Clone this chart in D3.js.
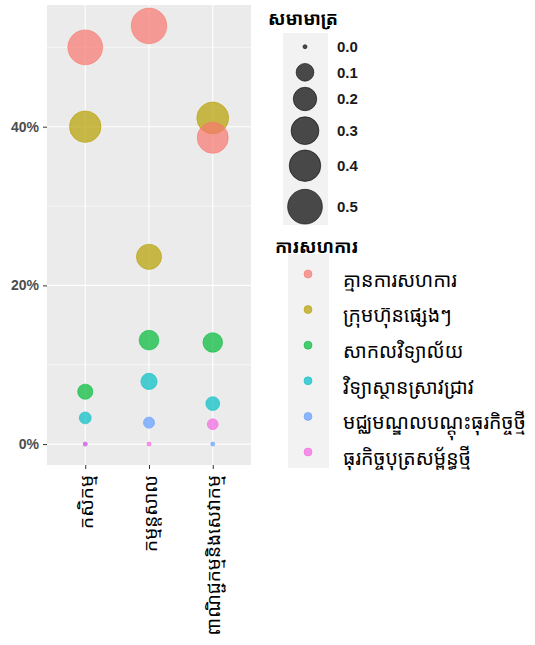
<!DOCTYPE html>
<html><head><meta charset="utf-8">
<script src="https://cdn.jsdelivr.net/npm/d3@7"></script>
<style>body{margin:0;background:#fff}svg{display:block}</style>
</head><body>
<script>
const categories = ["កសិកម្ម", "កម្មន្តសាល", "ពាណិជ្ជកម្មនិងសេវាកម្ម"];
const series = ["គ្មានការសហការ", "ក្រុមហ៊ុនផ្សេងៗ", "សាកលវិទ្យាល័យ", "វិទ្យាស្ថានស្រាវជ្រាវ", "មជ្ឈមណ្ឌលបណ្ដុះធុរកិច្ចថ្មី", "ធុរកិច្ចបុត្រសម្ព័ន្ធថ្មី"];
const colors = ["#F8766D", "#B79F00", "#00BA38", "#00BFC4", "#619CFF", "#F564E3"];
// values per series, one per category
const values = [
  [0.500, 0.527, 0.386],
  [0.400, 0.236, 0.411],
  [0.066, 0.131, 0.128],
  [0.033, 0.079, 0.051],
  [0.000, 0.027, 0.000],
  [0.000, 0.000, 0.025]
];
const yTicks = [0, 0.2, 0.4];
const yMinor = [0.1, 0.3, 0.5];
const sizeBreaks = [0.0, 0.1, 0.2, 0.3, 0.4, 0.5];
const sizeTitle = "សមាមាត្រ";
const colorTitle = "ការសហការ";
const drawOrder = [1, 0, 2, 3, 4, 5];

const W = 535, H = 645;
const svg = d3.select("body").append("svg").attr("width", W).attr("height", H);
const khmer = "'Noto Sans Khmer','Khmer OS','Khmer OS System','Leelawadee UI','Noto Sans','DejaVu Sans',sans-serif";

const panel = {l: 47, r: 251, t: 5, b: 465};
const maxV = d3.max(values.flat());
const ex = maxV * 0.05;
const y = d3.scaleLinear().domain([-ex, maxV + ex]).range([panel.b, panel.t]);
const x = d3.scalePoint().domain(categories).range([panel.l, panel.r]).padding(0.6);
const size = d3.scaleSqrt().domain([0, maxV]).range([2, 17.8]);

svg.append("rect").attr("x", panel.l).attr("y", panel.t).attr("width", panel.r - panel.l).attr("height", panel.b - panel.t).attr("fill", "#EBEBEB");
const g = svg.append("g");
g.selectAll("line.minor").data(yMinor).join("line").attr("x1", panel.l).attr("x2", panel.r)
  .attr("y1", d => y(d)).attr("y2", d => y(d)).attr("stroke", "#fff").attr("stroke-width", 0.6);
g.selectAll("line.major").data(yTicks).join("line").attr("x1", panel.l).attr("x2", panel.r)
  .attr("y1", d => y(d)).attr("y2", d => y(d)).attr("stroke", "#fff").attr("stroke-width", 1.1);
g.selectAll("line.vx").data(categories).join("line").attr("y1", panel.t).attr("y2", panel.b)
  .attr("x1", d => x(d)).attr("x2", d => x(d)).attr("stroke", "#fff").attr("stroke-width", 1.1);

// points
const pts = [];
drawOrder.forEach(si => categories.forEach((c, ci) => pts.push({c, v: values[si][ci], col: colors[si]})));
svg.append("g").selectAll("circle").data(pts).join("circle")
  .attr("cx", d => x(d.c)).attr("cy", d => y(d.v)).attr("r", d => size(d.v))
  .attr("fill", d => d.col).attr("fill-opacity", 0.7)
  .attr("stroke", d => d.col).attr("stroke-opacity", 0.7).attr("stroke-width", 0.8);

// y axis
const yAxis = d3.axisLeft(y).tickValues(yTicks).tickFormat(d => Math.round(d * 100) + "%").tickSize(4).tickPadding(4);
const ya = svg.append("g").attr("transform", `translate(${panel.l},0)`).call(yAxis);
ya.select(".domain").remove();
ya.selectAll("line").attr("stroke", "#333").attr("stroke-width", 1);
ya.selectAll("text").attr("fill", "#4D4D4D").style("font-family", "'Liberation Sans',Arial,sans-serif").style("font-weight", "bold").style("font-size", "14px");

// x axis
const xAxis = d3.axisBottom(x).tickSize(4).tickPadding(0);
const xa = svg.append("g").attr("transform", `translate(0,${panel.b})`).call(xAxis);
xa.select(".domain").remove();
xa.selectAll("line").attr("stroke", "#333");
xa.selectAll("text").attr("fill", "#000").attr("text-anchor", "end").attr("dy", null)
  .attr("transform", "translate(0,10) rotate(-90)").attr("y", 0).attr("x", 0).attr("dominant-baseline", "central")
  .style("font-family", khmer).style("font-size", "19px");

// size legend
svg.append("text").attr("x", 268).attr("y", 25).text(sizeTitle).style("font-family", khmer).style("font-size", "18px").style("font-weight", "bold");
svg.append("rect").attr("x", 283).attr("y", 33).attr("width", 45).attr("height", 192).attr("fill", "#F2F2F2");
const sizeY = [46.7, 72.3, 99, 130.7, 165.7, 206.7];
const sl = svg.append("g").selectAll("g").data(sizeBreaks).join("g").attr("transform", (d, i) => `translate(305,${sizeY[i]})`);
sl.append("circle").attr("r", d => size(d)).attr("fill", "#000").attr("fill-opacity", 0.7).attr("stroke", "#000").attr("stroke-opacity", 0.7).attr("stroke-width", 0.8);
sl.append("text").attr("x", 32).attr("dy", "0.35em").text(d => d.toFixed(1))
  .style("font-family", "'Liberation Sans',Arial,sans-serif").style("font-weight", "bold").style("font-size", "15px").attr("fill", "#1a1a1a");

// color legend
svg.append("text").attr("x", 275).attr("y", 253).text(colorTitle).style("font-family", khmer).style("font-size", "18px").style("font-weight", "bold");
svg.append("rect").attr("x", 288).attr("y", 254).attr("width", 41).attr("height", 214).attr("fill", "#F2F2F2");
const cl = svg.append("g").selectAll("g").data(series).join("g").attr("transform", (d, i) => `translate(308,${274 + i * 35.6})`);
cl.append("circle").attr("r", 4).attr("fill", (d, i) => colors[i]).attr("fill-opacity", 0.7).attr("stroke", (d, i) => colors[i]).attr("stroke-opacity", 0.7).attr("stroke-width", 0.8);
cl.append("text").attr("x", 35).attr("y", 6).attr("dy", "0.35em").text(d => d).style("font-family", khmer).style("font-size", "19.5px").attr("fill", "#000");
</script>
</body></html>
